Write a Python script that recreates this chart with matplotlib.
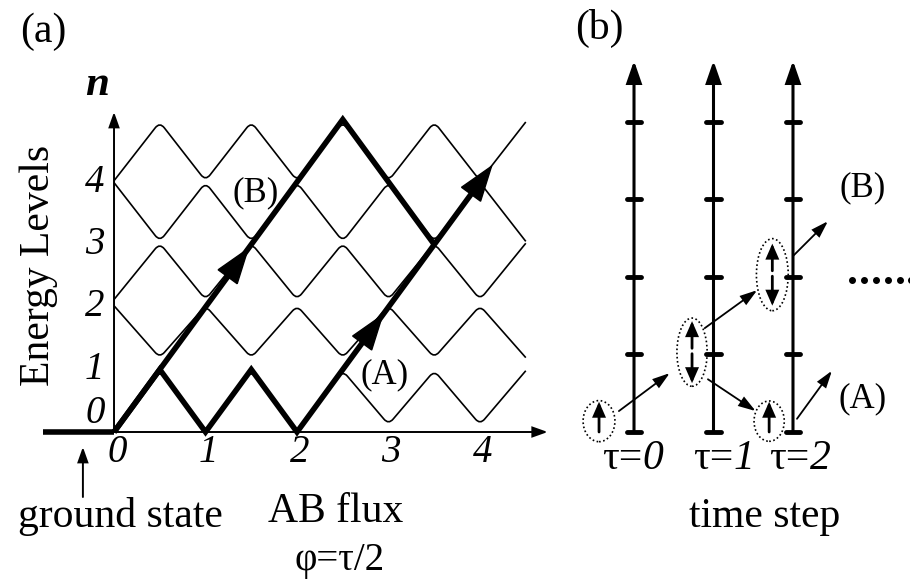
import numpy as np
import matplotlib
matplotlib.use('Agg')
import matplotlib.pyplot as plt
from matplotlib.path import Path
from matplotlib.patches import PathPatch, FancyArrowPatch, Ellipse

plt.rcParams['font.family'] = ['Liberation Serif', 'DejaVu Serif']

# ---- panel (a) data: energy levels vs AB flux ----
flux_turns = [0, 0.5, 1, 1.5, 2, 2.5, 3, 3.5, 4, 4.5]
band1 = [0.00, 0.98, 0.00, 0.98, 0.00, 0.98, 0.12, 0.98, 0.12, 0.98]
band2 = [2.02, 1.19, 2.02, 1.19, 2.02, 1.19, 2.02, 1.19, 2.02, 1.19]
band3 = [2.12, 3.02, 2.12, 3.02, 2.12, 3.02, 2.12, 3.02, 2.12, 3.02]
band4 = [3.99, 3.05, 3.99, 3.05, 3.99, 3.05, 3.99, 3.05, 3.99, 3.05]
band5 = [4.02, 4.96, 4.02, 4.96, 4.02, 4.96, 4.02, 4.96, 4.02, 4.96]
# diabatic paths (A) and (B)
path_a_flux = [0, 0.5, 1, 1.5, 2, 4.14]
path_a_E = [0, 1, 0, 1, 0, 4.28]
path_b_flux = [0, 2.5, 3.5]
path_b_E = [0, 5, 3]
ground_flux = [-0.78, 0]
flux_ticks = [0, 1, 2, 3, 4]
level_labels = ['0', '1', '2', '3', '4']

# ---- panel (b) data: spin states on time steps ----
time_steps = [0, 1, 2]
site_levels = [0, 1, 2, 3, 4]
state_tau = [0, 1, 2, 2]
state_level = [0, 1, 2, 0]
state_spin = ['up', 'updown', 'updown', 'up']


def rounded_path(xs, ys, r):
    verts = [(xs[0], ys[0])]
    codes = [Path.MOVETO]
    for i in range(1, len(xs) - 1):
        vx, vy = xs[i], ys[i]
        f0 = min(r / abs(xs[i] - xs[i - 1]), 0.5)
        f1 = min(r / abs(xs[i + 1] - xs[i]), 0.5)
        verts += [(vx + f0 * (xs[i - 1] - vx), vy + f0 * (ys[i - 1] - vy)),
                  (vx, vy),
                  (vx + f1 * (xs[i + 1] - vx), vy + f1 * (ys[i + 1] - vy))]
        codes += [Path.LINETO, Path.CURVE3, Path.CURVE3]
    verts.append((xs[-1], ys[-1]))
    codes.append(Path.LINETO)
    return Path(verts, codes)


def arrow(ax, p0, p1, lw, hl, hw):
    ax.add_patch(FancyArrowPatch(p0, p1, arrowstyle=f'-|>,head_length={hl},head_width={hw}',
                                 mutation_scale=1, lw=lw, color='k',
                                 shrinkA=0, shrinkB=0, joinstyle='miter'))


fig = plt.figure(figsize=(9.1, 5.79), dpi=100)
axa = fig.add_axes([0, 0, 560 / 910, 1])
axb = fig.add_axes([560 / 910, 0, 350 / 910, 1])
for ax in (axa, axb):
    ax.axis('off')
axa.set_xlim(-1.246, 4.874)
axa.set_ylim(-2.352, 6.912)
axb.set_xlim(-0.931, 3.472)
axb.set_ylim(-1.897, 5.574)

# ===== panel (a) =====
for band in (band1, band2, band3, band4, band5):
    axa.add_patch(PathPatch(rounded_path(flux_turns, band, 0.05), fill=False, lw=1.2, ec='k'))

# axes with arrows
arrow(axa, (0, 0), (4.74, 0), 1.4, 9, 3.2)
arrow(axa, (0, 0), (0, 5.12), 1.4, 9, 3.2)
axa.plot(ground_flux, [0, 0], color='k', lw=4, solid_capstyle='butt')

# thick paths, last segment of (A) stops at the arrow head
ax_end = path_a_flux[-1] - 0.12
ay_end = path_a_E[-1] - 0.24
axa.plot(path_a_flux[:-1] + [ax_end], path_a_E[:-1] + [ay_end], color='k', lw=4,
         solid_joinstyle='miter', solid_capstyle='butt')
axa.plot(path_b_flux, path_b_E, color='k', lw=4, solid_joinstyle='miter', solid_capstyle='butt')
arrow(axa, (path_a_flux[-1] - 0.4, path_a_E[-1] - 0.8), (path_a_flux[-1], path_a_E[-1]), 1, 25, 8.5)
arrow(axa, (1.1, 2.2), (1.48, 2.96), 1, 25, 8.5)
arrow(axa, (2.55, 1.1), (2.95, 1.9), 1, 25, 8.5)

# text
axa.text(-0.776, 6.4, '(a)', fontsize=30, ha='center', va='center')
axa.text(-0.18, 5.55, 'n', fontsize=31, ha='center', va='center', style='italic', weight='bold')
axa.text(-0.82, 2.67, 'Energy Levels', fontsize=30, rotation=90, ha='center', va='center')
for lab in level_labels:
    v = int(lab)
    axa.text(-0.21, max(v, 0.3), lab, fontsize=28, style='italic', ha='center', va='center')
for t in flux_ticks:
    axa.text(t + 0.03, -0.32, str(t), fontsize=28, style='italic', ha='center', va='center')
axa.text(1.55, 3.82, '(B)', fontsize=25, ha='center', va='center')
axa.text(2.96, 0.91, '(A)', fontsize=25, ha='center', va='center')
arrow(axa, (-0.34, -1.04), (-0.34, -0.24), 1.4, 9, 3.2)
axa.text(0.066, -1.36, 'ground state', fontsize=30, ha='center', va='center')
axa.text(2.42, -1.28, 'AB flux', fontsize=30, ha='center', va='center')
axa.text(2.47, -2.05, 'φ=τ/2', fontsize=28, ha='center', va='center')

# ===== panel (b) =====
for tau in time_steps:
    arrow(axb, (tau, 0), (tau, 4.79), 2.2, 13, 4.5)
    for k in site_levels:
        axb.plot([tau - 0.09, tau + 0.09], [k, k], color='k', lw=3.5, solid_capstyle='round')

# spin groups (dotted ellipses)
state_dx = [-0.44, -0.27, -0.26, -0.30]
state_dy = [0.14, 0.03, 0.03, 0.14]
state_w = [0.40, 0.38, 0.40, 0.38]
state_h = [0.53, 0.88, 0.93, 0.52]
for tau, lev, spin, dx, dy, w, h in zip(state_tau, state_level, state_spin,
                                         state_dx, state_dy, state_w, state_h):
    cx, cy = tau + dx, lev + dy
    axb.add_patch(Ellipse((cx, cy), w, h, fill=False, lw=1.2, ec='k', ls=(0, (1, 1.5))))
    if spin == 'up':
        arrow(axb, (cx, cy - 0.14), (cx, cy + 0.25), 2, 8, 3.5)
    else:
        arrow(axb, (cx, cy + 0.05), (cx, cy + 0.40), 2, 8, 3.5)
        arrow(axb, (cx, cy - 0.02), (cx, cy - 0.40), 2, 8, 3.5)

hops = [((-0.19, 0.27), (0.45, 0.76)), ((0.89, 1.34), (1.55, 1.83)),
        ((0.93, 0.68), (1.53, 0.27)), ((2.0, 2.27), (2.44, 2.72)),
        ((2.05, 0.17), (2.49, 0.79))]
for p0, p1 in hops:
    arrow(axb, p0, p1, 1.3, 10, 3.2)

axb.plot([2.74, 2.89, 3.04, 3.19, 3.34, 3.49], [1.96] * 6, 'o', color='k', ms=4)
axb.text(2.87, 3.15, '(B)', fontsize=25, ha='center', va='center')
axb.text(2.88, 0.43, '(A)', fontsize=25, ha='center', va='center')
axb.text(-0.43, 5.21, '(b)', fontsize=30, ha='center', va='center')
tau_dx = [0.11, 0.25, 0.21]
for tau, dx in zip(time_steps, tau_dx):
    axb.text(tau + dx, -0.35, 'τ=', fontsize=30, ha='right', va='center')
    axb.text(tau + dx, -0.35, str(tau), fontsize=30, style='italic', ha='left', va='center')
axb.text(1.64, -1.09, 'time step', fontsize=30, ha='center', va='center')

fig.savefig('out.png', dpi=100, facecolor='white')
